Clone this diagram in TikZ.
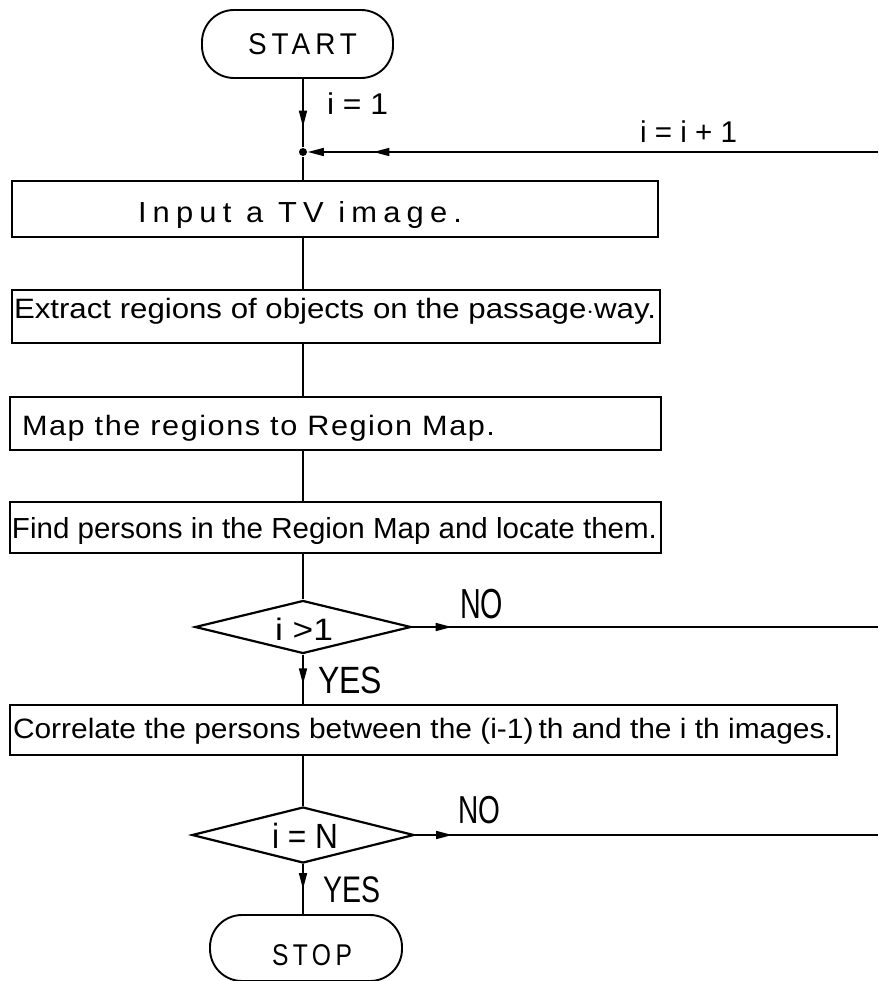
\documentclass[tikz,border=0pt]{standalone}
\usepackage{fontspec}
\setmainfont{Liberation Sans}
\usetikzlibrary{arrows.meta,decorations.markings,shapes.geometric}
\newcommand{\fitw}[2]{\resizebox{#1}{\height}{#2}}
\newcommand{\fsz}[1]{\fontsize{#1}{#1}\selectfont}
\newcommand{\lsp}[1]{\addfontfeatures{LetterSpace=#1}}
\begin{document}
\begin{tikzpicture}[x=1pt,y=-1pt,
  line width=1.6pt,
  box/.style={draw, rectangle, inner sep=0pt, line width=1.9pt},
  term/.style={draw, rectangle, rounded corners=32pt, inner sep=0pt, line width=1.9pt},
  dec/.style={draw, diamond, inner sep=0pt, line width=2.2pt},
  txt/.style={anchor=base west, inner sep=0pt, outer sep=0pt},
  dot/.style={circle, fill, inner sep=0pt, minimum size=8pt},
  endtip/.style={-{Triangle[length=16pt,width=8pt]}},
  midarrow/.style={postaction={decorate}, decoration={markings,
     mark=at position #1 with {\arrow{Triangle[length=16pt,width=8pt]}}}},
]
\useasboundingbox (0,0) rectangle (878,981);

% terminals
\node[term, minimum width=191pt, minimum height=68pt] (start) at (297.5,44) {};
\node[txt] (startt) at (248,55) {\fsz{30}\lsp{18}\fitw{109pt}{START}};
\node[term, minimum width=192pt, minimum height=66pt] (stop) at (306,948) {};
\node[txt] (stopt) at (272,965) {\fsz{30}\lsp{18}\fitw{80pt}{STOP}};

% junction and right-edge coordinates
\node[dot] (j) at (303,152) {};
\coordinate (r1) at (878,152);
\coordinate (r2) at (878,627);
\coordinate (r3) at (878,835);

% process boxes
\node[box, minimum width=646pt, minimum height=56pt] (b1) at (335,209) {};
\node[box, minimum width=648pt, minimum height=53pt] (b2) at (336,316.5) {};
\node[box, minimum width=651pt, minimum height=53pt] (b3) at (335.5,423.5) {};
\node[box, minimum width=651pt, minimum height=51pt] (b4) at (335.5,527.5) {};
\node[box, minimum width=827pt, minimum height=50pt] (b5) at (423.5,730) {};

\node[txt] (t1) at (138,223) {\fsz{29}\lsp{20}\fitw{324pt}{Input a TV image.}};
\node[txt] (t2) at (14,318) {\fsz{28}\fitw{642pt}{Extract regions of objects on the passage$\cdot$way.}};
\node[txt] (t3) at (22,435) {\fsz{28}\lsp{5}\fitw{473pt}{Map the regions to Region Map.}};
\node[txt] (t4) at (12,538) {\fsz{29}\fitw{645pt}{Find persons in the Region Map and locate them.}};
\node[txt] (t5) at (13,738) {\fsz{28}\fitw{820pt}{Correlate the persons between the (i-1)\,th and the i th images.}};

% decisions
\node[dec, minimum width=216pt, minimum height=53pt] (d1) at (303,627) {};
\node[txt] (d1t) at (275,640) {\fsz{31}\fitw{58pt}{i >1}};
\node[dec, minimum width=222pt, minimum height=56pt] (d2) at (303,835) {};
\node[txt] (d2t) at (272,848) {\fsz{35}\fitw{66pt}{i = N}};

% labels
\node[txt] (l1) at (327,115) {\fsz{30}\fitw{61pt}{i = 1}};
\node[txt] (l2) at (640,143) {\fsz{30}\fitw{97pt}{i = i + 1}};
\node[txt] (no1) at (460,618) {\fsz{42}\fitw{43pt}{NO}};
\node[txt] (yes1) at (318,693) {\fsz{38}\fitw{64pt}{YES}};
\node[txt] (no2) at (458,823) {\fsz{39}\fitw{42pt}{NO}};
\node[txt] (yes2) at (323,902) {\fsz{37}\fitw{57pt}{YES}};

% connectors
\draw[midarrow=0.7] (j |- start.south) -- (j);
\draw[endtip, midarrow=0.885] (r1) -- (j);
\draw (j) -- (j |- b1.north);
\draw (j |- b1.south) -- (j |- b2.north);
\draw (j |- b2.south) -- (j |- b3.north);
\draw (j |- b3.south) -- (j |- b4.north);
\draw (j |- b4.south) -- (d1.north);
\draw[midarrow=0.085] (d1.east) -- (r2);
\draw[midarrow=0.6] (d1.south) -- (j |- b5.north);
\draw (j |- b5.south) -- (d2.north);
\draw[midarrow=0.08] (d2.east) -- (r3);
\draw[midarrow=0.5] (d2.south) -- (j |- stop.north);
\end{tikzpicture}
\end{document}
